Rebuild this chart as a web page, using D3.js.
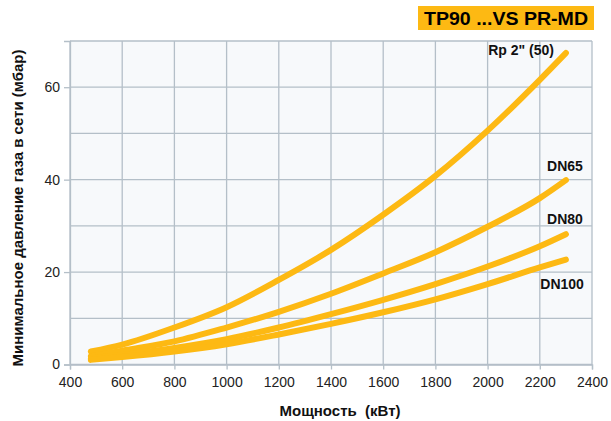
<!DOCTYPE html>
<html>
<head>
<meta charset="utf-8">
<script src="https://cdn.jsdelivr.net/npm/d3@7"></script>
<style>
  html, body { margin: 0; padding: 0; background: #fff; }
  svg { display: block; }
  text { font-family: "Liberation Sans", Arial, sans-serif; }
</style>
</head>
<body>
<svg id="chart" width="611" height="421"></svg>
<script>
// Burner power (kW) at which each curve is sampled
const power = [480, 600, 800, 1000, 1200, 1400, 1600, 1800, 2000, 2200, 2300];

// Minimum gas supply pressure (mbar) for each gas train size
const rp2  = [2.8, 4.3, 8.0, 12.4, 18.3, 24.8, 32.4, 40.8, 50.6, 61.6, 67.4];
const dn65 = [1.8, 3.0, 5.0, 8.0, 11.4, 15.3, 19.7, 24.3, 29.8, 36.0, 39.9];
const dn80 = [1.3, 2.1, 3.6, 5.5, 8.0, 10.9, 14.0, 17.4, 21.2, 25.6, 28.2];
const dn100 = [1.0, 1.6, 2.8, 4.4, 6.5, 8.8, 11.3, 14.1, 17.4, 21.0, 22.7];

const seriesNames = ["Rp 2\" (50)", "DN65", "DN80", "DN100"];
const seriesValues = [rp2, dn65, dn80, dn100];

const xTicks = [400, 600, 800, 1000, 1200, 1400, 1600, 1800, 2000, 2200, 2400];
const yTicks = [0, 20, 40, 60];
const yGrid = [0, 10, 20, 30, 40, 50, 60, 70];

const title = "TP90 ...VS PR-MD";
const xTitle = "Мощность  (кВт)";
const yTitle = "Минимальное давление газа в сети (мбар)";

const gold = "#fdb913";
const gridColor = "#b4bfc8";

const svg = d3.select("#chart");
const plotLeft = 70, plotRight = 592, plotTop = 41, plotBottom = 364.5;

const x = d3.scaleLinear().domain([400, 2400]).range([plotLeft, plotRight]);
const y = d3.scaleLinear().domain([0, 70]).range([plotBottom, plotTop]);

// plot background
svg.append("rect")
  .attr("x", plotLeft).attr("y", plotTop)
  .attr("width", plotRight - plotLeft).attr("height", plotBottom - plotTop)
  .attr("fill", "#f7f9fb");

// grid
const grid = svg.append("g").attr("stroke", gridColor).attr("stroke-width", 1.3);
grid.selectAll("line.v").data(xTicks).join("line")
  .attr("x1", d => x(d)).attr("x2", d => x(d))
  .attr("y1", plotTop).attr("y2", plotBottom);
grid.selectAll("line.h").data(yGrid).join("line")
  .attr("x1", plotLeft).attr("x2", plotRight)
  .attr("y1", d => y(d)).attr("y2", d => y(d));

// axes
const xAxis = svg.append("g")
  .attr("transform", `translate(0,${plotBottom})`)
  .call(d3.axisBottom(x).tickValues(xTicks).tickSize(5).tickPadding(8).tickFormat(d3.format("d")));
const yAxis = svg.append("g")
  .attr("transform", `translate(${plotLeft},0)`)
  .call(d3.axisLeft(y).tickValues(yTicks).tickSize(6).tickPadding(4).tickFormat(d3.format("d")));
[xAxis, yAxis].forEach(a => {
  a.select(".domain").attr("stroke", gridColor).attr("stroke-width", 1.3);
  a.selectAll(".tick line").attr("stroke", gridColor).attr("stroke-width", 1.3);
  a.selectAll(".tick text")
    .attr("fill", "#222")
    .style("font-family", "'Liberation Sans', Arial, sans-serif")
    .style("font-size", "14px");
});

// curves
const line = d3.line()
  .x((d, i) => x(power[i]))
  .y(d => y(d))
  .curve(d3.curveMonotoneX);

svg.append("g").selectAll("path").data(seriesValues).join("path")
  .attr("d", d => line(d))
  .attr("fill", "none")
  .attr("stroke", gold)
  .attr("stroke-width", 6)
  .attr("stroke-linecap", "round")
  .attr("stroke-linejoin", "round");

// curve labels, placed relative to each curve's last point
const labelOffsets = [[-12, 2], [17, -9], [17, -10], [18, 29]];
const last = power.length - 1;
svg.append("g").selectAll("text").data(seriesNames).join("text")
  .attr("x", (d, i) => x(power[last]) + labelOffsets[i][0])
  .attr("y", (d, i) => y(seriesValues[i][last]) + labelOffsets[i][1])
  .attr("text-anchor", "end")
  .attr("font-size", 14)
  .attr("font-weight", "bold")
  .attr("fill", "#111")
  .text(d => d);

// title box
svg.append("rect")
  .attr("x", 418).attr("y", 6).attr("width", 176).attr("height", 24)
  .attr("fill", gold);
svg.append("text")
  .attr("x", 424).attr("y", 24.5)
  .attr("font-size", 18)
  .attr("font-weight", "bold")
  .attr("fill", "#000")
  .attr("textLength", 164)
  .attr("lengthAdjust", "spacingAndGlyphs")
  .text(title);

// axis titles
svg.append("text")
  .attr("x", 340).attr("y", 416)
  .attr("text-anchor", "middle")
  .attr("font-size", 15)
  .attr("font-weight", "bold")
  .attr("fill", "#111")
  .style("white-space", "pre")
  .text(xTitle);

svg.append("text")
  .attr("transform", "translate(23,208) rotate(-90)")
  .attr("text-anchor", "middle")
  .attr("font-size", 15)
  .attr("font-weight", "bold")
  .attr("fill", "#111")
  .text(yTitle);
</script>
</body>
</html>
